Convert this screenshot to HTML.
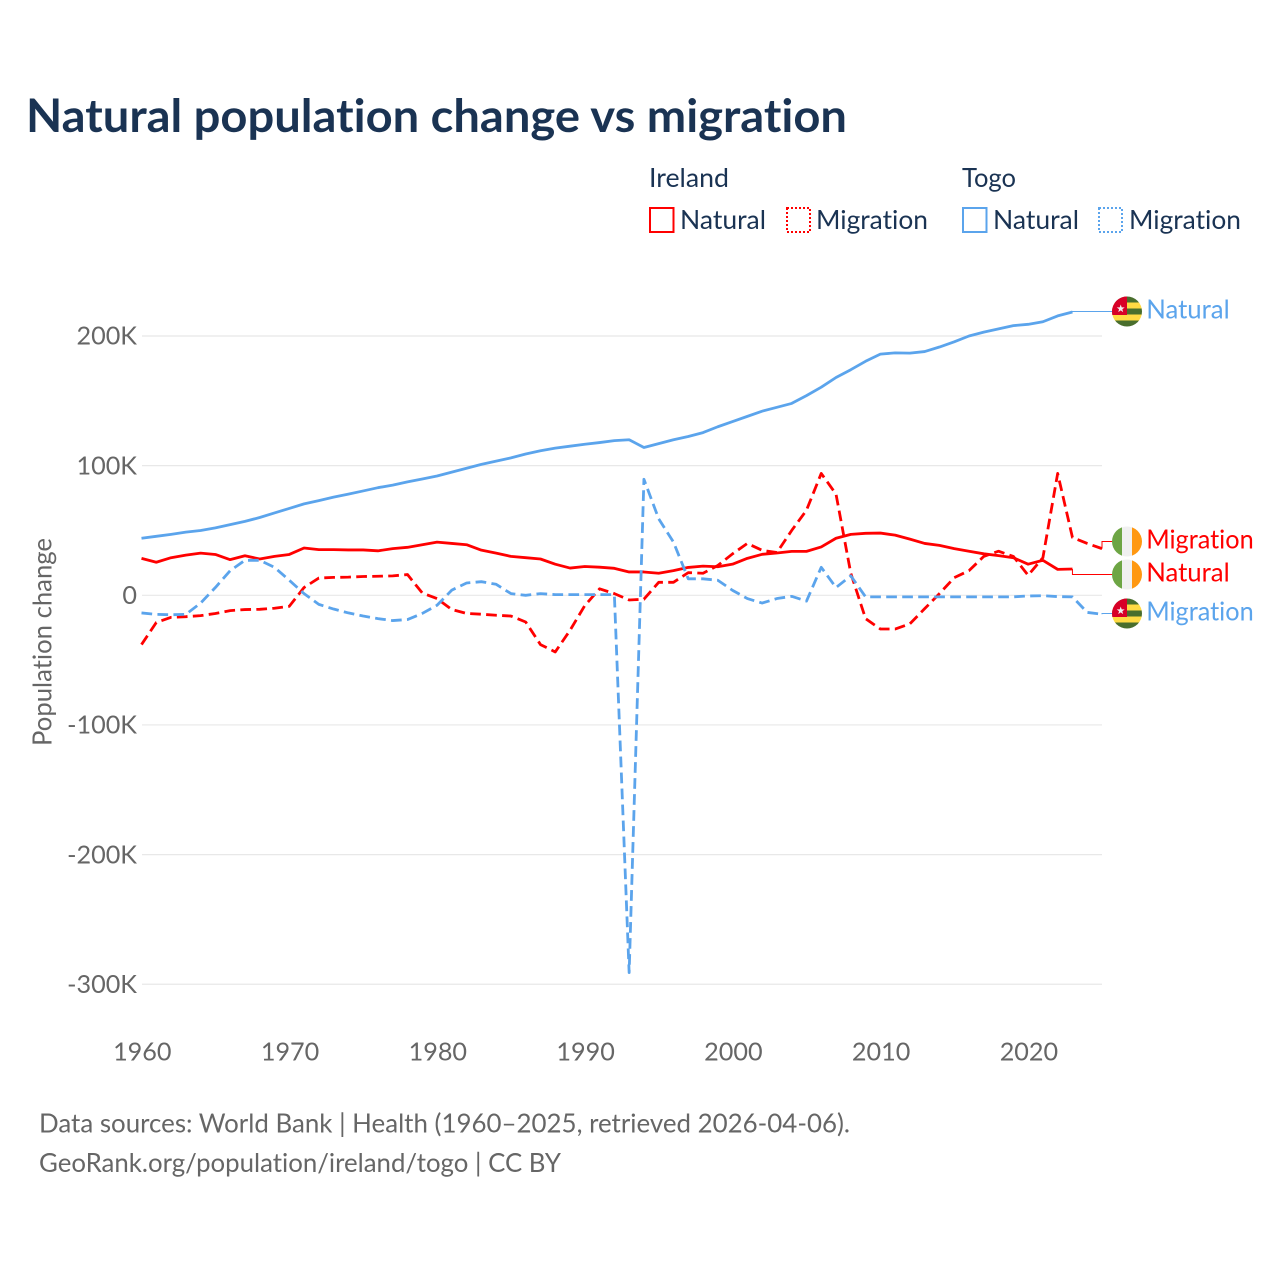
<!DOCTYPE html>
<html lang="en">
<head>
<meta charset="utf-8">
<title>Natural population change vs migration</title>
<style>
html,body{margin:0;padding:0;background:#fff;}
svg{display:block;}
text{font-family:"Lato","Carlito","Liberation Sans",sans-serif;font-variant-ligatures:none;}
.tick{font-size:25.2px;fill:#666;}
.axis-title{font-size:26px;fill:#666;}
.leg{font-size:26px;fill:#1a3353;}
.foot{font-size:26px;fill:#666;}
.lab{font-size:26px;}
</style>
</head>
<body>
<svg id="chart" xmlns="http://www.w3.org/2000/svg" width="1280" height="1280" viewBox="0 0 1280 1280">
  <defs>
    <clipPath id="flag-clip"><circle cx="0" cy="0" r="15"/></clipPath>
  </defs>
  <text x="26" y="132" font-size="46" font-weight="700" fill="#1a3353" textLength="821" lengthAdjust="spacingAndGlyphs">Natural population change vs migration</text>

  <g>
    <text class="leg" x="649" y="187" textLength="80" lengthAdjust="spacingAndGlyphs">Ireland</text>
    <text class="leg" x="962" y="187" textLength="54" lengthAdjust="spacingAndGlyphs">Togo</text>
    <g>
      <rect x="650" y="208" width="23.5" height="24" fill="none" stroke="#ff0000" stroke-width="2"/>
      <text class="leg" x="680" y="229" textLength="86" lengthAdjust="spacingAndGlyphs">Natural</text>
    </g>
    <g>
      <rect x="787" y="208" width="23" height="24" fill="none" stroke="#ff0000" stroke-width="2" stroke-dasharray="2 2"/>
      <text class="leg" x="816" y="229" textLength="112" lengthAdjust="spacingAndGlyphs">Migration</text>
    </g>
    <g>
      <rect x="963" y="208" width="23.5" height="24" fill="none" stroke="#5ba4ec" stroke-width="2"/>
      <text class="leg" x="993" y="229" textLength="86" lengthAdjust="spacingAndGlyphs">Natural</text>
    </g>
    <g>
      <rect x="1099" y="208" width="23" height="24" fill="none" stroke="#5ba4ec" stroke-width="2" stroke-dasharray="2 2"/>
      <text class="leg" x="1129" y="229" textLength="112" lengthAdjust="spacingAndGlyphs">Migration</text>
    </g>
  </g>

  <g id="grid"></g>
  <g id="yticks"></g>
  <g id="xticks"></g>
  <text class="axis-title" transform="translate(51.5,642) rotate(-90)" text-anchor="middle" textLength="208" lengthAdjust="spacingAndGlyphs">Population change</text>
  <g id="series"></g>
  <g id="end-labels"></g>

  <text class="foot" x="39" y="1132.6" textLength="811" lengthAdjust="spacingAndGlyphs">Data sources: World Bank | Health (1960–2025, retrieved 2026-04-06).</text>
  <text class="foot" x="39" y="1172" textLength="522" lengthAdjust="spacingAndGlyphs">GeoRank.org/population/ireland/togo | CC BY</text>
</svg>

<script>
const startYear = 1960;
const endYear = 2025;
const xTickYears = [1960, 1970, 1980, 1990, 2000, 2010, 2020];
const yTickValues = [200, 100, 0, -100, -200, -300];
const yTickLabels = ["200K", "100K", "0", "-100K", "-200K", "-300K"];

// Values in thousands, one per year from 1960.
const irelandNatural = [28.5,25.5,29,31,32.5,31.5,27.5,30.5,28,30,31.5,36.5,35.2,35.2,35,35,34.3,36,37,39,41,40,39,34.8,32.5,30,29,28,24,21,22.2,21.7,20.8,18,18,17,19,21.5,22.5,22,24,28.5,31.6,32.6,33.9,33.9,37.3,44,47,47.8,48,46.4,43.3,40,38.5,36,34,32,30.6,29,24,27,20,20.3];
const irelandMigration = [-38,-21,-17,-16.5,-15.7,-14,-11.8,-11,-10.8,-10,-8.5,6,13.3,13.8,14,14.5,14.7,15,16,1.8,-2.5,-11,-14,-14.6,-15.4,-16,-20.6,-38,-43.7,-27,-7.9,5,1.3,-3.6,-3,10,10,17.5,17,23,32,40,34.7,33,50,65.6,94,78,17,-18,-26,-26,-22,-10.3,1.3,13.6,19,30,34,30,15.4,29,94,44.6,40,36];
const togoNatural = [44,45.5,47,48.7,50,52,54.5,57,60,63.5,67,70.5,73,75.7,78,80.5,83,85,87.5,89.7,92,95,98,101,103.5,106,109,111.5,113.5,115,116.5,117.8,119.3,120,114,117,120,122.5,125.5,130,134,138,142,145,148,154,160.5,168,174,180.5,186,187,186.8,188,191.5,195.5,200,203,205.5,208,209,211,215.5,218.5];
const togoMigration = [-13.6,-14.7,-15,-14.7,-6,6,19,27,27,21.6,11.6,1.3,-7,-10.6,-13.6,-16,-18,-19.5,-18.7,-14,-7.7,4,9.5,10.5,8.5,1.3,0,1.3,0.5,0.5,0.5,0.5,0.5,-291,89.5,59,41,12.7,12.7,11.6,3.8,-2.5,-6,-2.5,-0.8,-4.5,21.6,6,15,-1.2,-1.2,-1.2,-1.2,-1.2,-1.2,-1.2,-1.2,-1.2,-1.2,-1.2,-0.5,-0.3,-1,-1.2,-13.2,-14.6];

const SVG_NS = "http://www.w3.org/2000/svg";
const RED = "#ff0000";
const BLUE = "#5ba4ec";
const plotLeft = 142;
const plotRight = 1102;
const flagX = 1127;

function xScale(year) {
  return 141.5 + (year - startYear) * (1102 - 141.5) / (endYear - startYear);
}
function yScale(value) {
  return 595.3 - value * 1.2965;
}
function make(tag, attrs) {
  const el = document.createElementNS(SVG_NS, tag);
  for (const k in attrs) el.setAttribute(k, attrs[k]);
  return el;
}

const gridGroup = document.getElementById("grid");
const yTickGroup = document.getElementById("yticks");
const xTickGroup = document.getElementById("xticks");
const seriesGroup = document.getElementById("series");
const labelGroup = document.getElementById("end-labels");

yTickValues.forEach(function (v, i) {
  const line = make("line", {x1: plotLeft, x2: plotRight, y1: yScale(v), y2: yScale(v), stroke: "#e8e8e8", "stroke-width": 1.2});
  
  
  gridGroup.appendChild(line);
  const t = make("text", {x: 137, y: yScale(v) + 8.7, "text-anchor": "end", "class": "tick"});
  
  
  t.textContent = yTickLabels[i];
  yTickGroup.appendChild(t);
});

xTickYears.forEach(function (yr) {
  const t = make("text", {x: xScale(yr) + 0.8, y: 1060.7, "text-anchor": "middle", "class": "tick"});
  
  
  t.textContent = String(yr);
  xTickGroup.appendChild(t);
});

function drawSeries(values, color, dashed, name) {
  const pts = values.map(function (v, i) {
    return xScale(startYear + i).toFixed(2) + "," + yScale(v).toFixed(2);
  }).join(" ");
  const line = make("polyline", {points: pts, fill: "none", stroke: color, "stroke-width": 2.8, "stroke-linejoin": "round"});
  if (dashed) line.setAttribute("stroke-dasharray", "10.7 5.3");
  
  
  seriesGroup.appendChild(line);
}
drawSeries(togoNatural, BLUE, false, "togo-natural-line");
drawSeries(irelandMigration, RED, true, "ireland-migration-line");
drawSeries(irelandNatural, RED, false, "ireland-natural-line");
drawSeries(togoMigration, BLUE, true, "togo-migration-line");

function irelandFlag(g) {
  const clip = make("g", {"clip-path": "url(#flag-clip)"});
  clip.appendChild(make("rect", {x: -15, y: -15, width: 10, height: 30, fill: "#6da544"}));
  clip.appendChild(make("rect", {x: -5, y: -15, width: 10, height: 30, fill: "#f0f0f0"}));
  clip.appendChild(make("rect", {x: 5, y: -15, width: 10, height: 30, fill: "#ff9811"}));
  g.appendChild(clip);
}
function togoFlag(g) {
  const clip = make("g", {"clip-path": "url(#flag-clip)"});
  const stripeColors = ["#496e2d", "#ffda44", "#496e2d", "#ffda44", "#496e2d"];
  stripeColors.forEach(function (c, i) {
    clip.appendChild(make("rect", {x: -15, y: -15 + i * 6, width: 30, height: 6.2, fill: c}));
  });
  clip.appendChild(make("rect", {x: -15, y: -15, width: 15, height: 18.5, fill: "#d80027"}));
  clip.appendChild(make("polygon", {points: "-6.3,-7 -5.3,-4.18 -2.3,-4.1 -4.68,-2.27 -3.83,0.6 -6.3,-1.1 -8.77,0.6 -7.92,-2.27 -10.3,-4.1 -7.3,-4.18", fill: "#f0f0f0"}));
  g.appendChild(clip);
}

function drawEndLabel(values, color, text, labelShift, drawFlag, name) {
  const lastYear = startYear + values.length - 1;
  const lastX = xScale(lastYear);
  const lastY = yScale(values[values.length - 1]);
  const labelY = Math.round(lastY + labelShift) - 0.5;
  const conn = make("polyline", {points: lastX + "," + lastY + " " + lastX + "," + labelY + " " + (flagX - 14) + "," + labelY, fill: "none", stroke: color, "stroke-width": 1});
  
  
  labelGroup.appendChild(conn);

  const flag = make("g", {transform: "translate(" + flagX + "," + labelY + ")"});
  
  
  drawFlag(flag);
  labelGroup.appendChild(flag);

  const lab = make("text", {x: 1146.2, y: labelY + 7.2, fill: color, "class": "lab"});
  
  
  lab.setAttribute("textLength", text === "Natural" ? 83.5 : 107.5);
  lab.setAttribute("lengthAdjust", "spacingAndGlyphs");
  lab.textContent = text;
  labelGroup.appendChild(lab);
}
drawEndLabel(togoNatural, BLUE, "Natural", 0, togoFlag, "togo-natural");
drawEndLabel(irelandMigration, RED, "Migration", -7, irelandFlag, "ireland-migration");
drawEndLabel(irelandNatural, RED, "Natural", 6.5, irelandFlag, "ireland-natural");
drawEndLabel(togoMigration, BLUE, "Migration", 0, togoFlag, "togo-migration");
</script>
</body>
</html>
